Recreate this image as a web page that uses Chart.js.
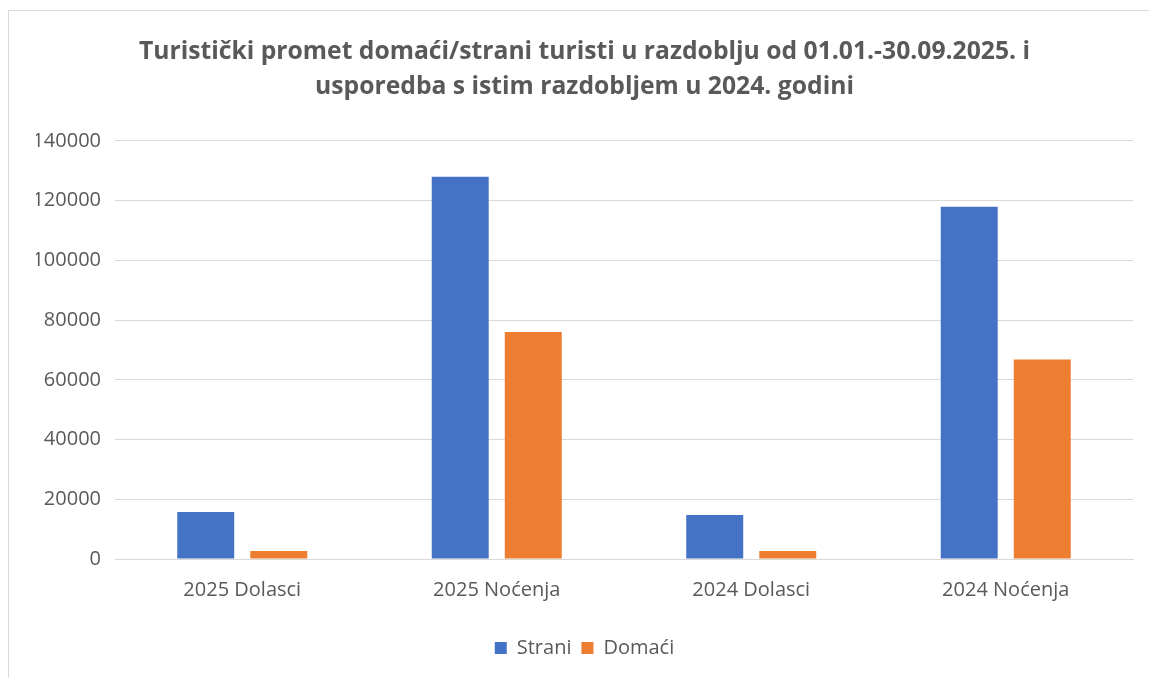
<!DOCTYPE html>
<html>
<head>
<meta charset="utf-8">
<script src="https://cdn.jsdelivr.net/npm/chart.js@4/dist/chart.umd.min.js"></script>
<style>
  html, body { margin: 0; padding: 0; background: #ffffff; overflow: hidden; }
  #wrap { position: absolute; left: 0; top: 0; width: 1149px; height: 678px; overflow: hidden; }
  #frame { position: absolute; left: 8px; top: 10px; width: 1200px; height: 700px;
           border-left: 1px solid #d9d9d9; border-top: 1px solid #d9d9d9; pointer-events: none; }
  canvas { position: absolute; left: 0; top: 0; }
</style>
</head>
<body>
<div id="wrap">
  <canvas id="c" width="1169" height="678"></canvas>
  <div id="frame"></div>
</div>
<script>
const categories = ['2025 Dolasci', '2025 Noćenja', '2024 Dolasci', '2024 Noćenja'];
const strani = [15700, 128000, 14700, 118000];
const domaci = [2700, 76000, 2700, 66800];
const seriesNames = ['Strani', 'Domaći'];
const titleLines = ['Turistički promet domaći/strani turisti u razdoblju od 01.01.-30.09.2025. i',
                    'usporedba s istim razdobljem u 2024. godini'];
const yMax = 140000;
const yStep = 20000;

const FONT = "'Open Sans', 'Noto Sans', sans-serif";
const TXT = '#595959';

new Chart(document.getElementById('c'), {
  type: 'bar',
  data: {
    labels: categories,
    datasets: [
      { label: seriesNames[0], data: strani, backgroundColor: '#4472c4', borderWidth: 0 },
      { label: seriesNames[1], data: domaci, backgroundColor: '#ed7d31', borderWidth: 0 }
    ]
  },
  options: {
    responsive: false,
    animation: false,
    devicePixelRatio: 1,
    layout: { padding: { left: 36, right: 36, top: 34, bottom: 10 } },
    datasets: { bar: { categoryPercentage: 0.574, barPercentage: 0.78 } },
    plugins: {
      title: {
        display: true,
        text: titleLines,
        color: TXT,
        font: { family: FONT, size: 24.7, weight: 'bold', lineHeight: 1.417 },
        padding: { top: 0, bottom: 37 }
      },
      legend: {
        position: 'bottom',
        labels: {
          color: TXT,
          font: { family: FONT, size: 20 },
          boxWidth: 12, boxHeight: 12,
          padding: 10
        }
      },
      tooltip: { enabled: false }
    },
    scales: {
      x: {
        grid: { display: false },
        border: { display: true, color: '#d9d9d9', width: 1 },
        ticks: { color: TXT, font: { family: FONT, size: 20 }, padding: 11 },
        afterFit: (s) => { s.height += 15; }
      },
      y: {
        min: 0, max: yMax,
        grid: { color: '#d9d9d9', lineWidth: 1, drawTicks: false },
        border: { display: false },
        ticks: { stepSize: yStep, color: TXT, font: { family: FONT, size: 20 }, padding: 14,
                 callback: (v) => String(v) },
        afterFit: (s) => { s.width = 79; }
      }
    }
  }
});
</script>
</body>
</html>
